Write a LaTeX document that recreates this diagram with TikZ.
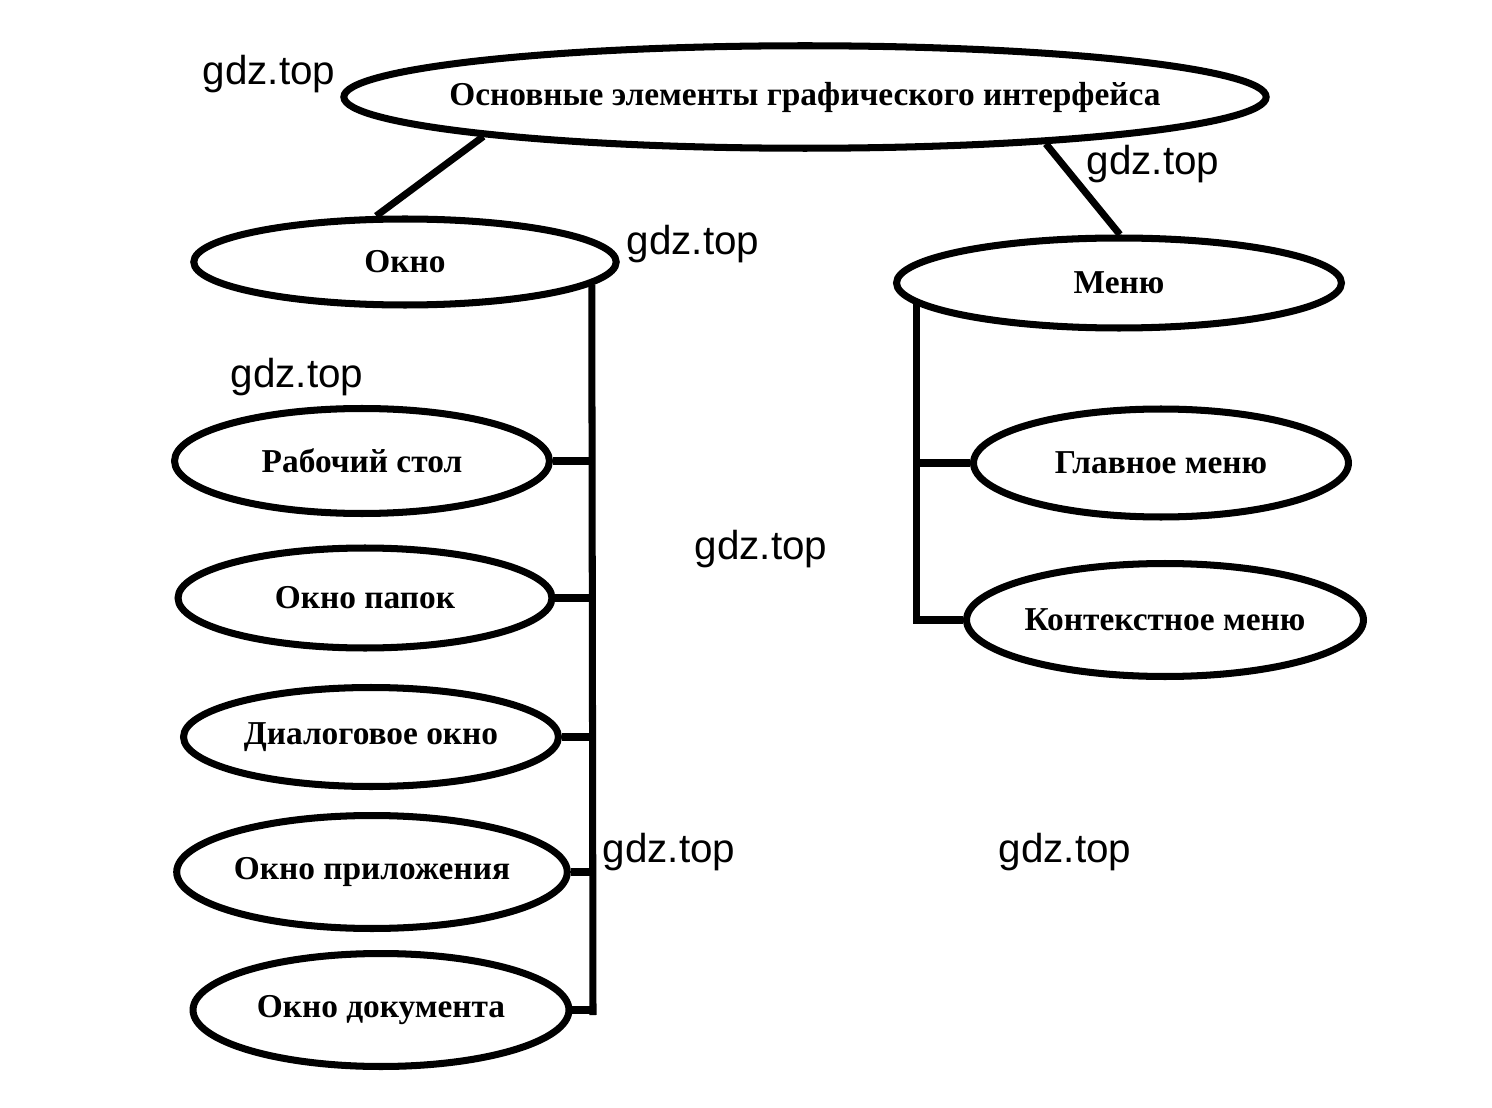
\documentclass[tikz,border=0pt]{standalone}
\usepackage{fontspec}
\setmainfont{Liberation Serif}
\newfontfamily\wmfont{Liberation Sans}
\usetikzlibrary{shapes.geometric}

\tikzset{
  oval/.style={ellipse, draw, line width=4pt, inner sep=0pt,
    font=\fontsize{19}{22}\selectfont\bfseries},
  link/.style={line width=4pt},
  mark gdz/.style={font=\wmfont\fontsize{23}{26}\selectfont}
}

\begin{document}
\begin{tikzpicture}[x=0.02cm, y=-0.02cm]
\useasboundingbox (0,0) rectangle (1492,1108);

\node[oval, inner xsep=-0.6cm, minimum width=18.45cm, minimum height=2.05cm] (top) at (805,97) {Основные элементы графического интерфейса};

\node[oval, minimum width=8.45cm, minimum height=1.72cm] (okno) at (405,262) {Окно};
\node[oval, minimum width=8.9cm, minimum height=1.8cm] (menu) at (1119,283) {Меню};

% ветвь окна
\node[oval, minimum width=7.5cm, minimum height=2.1cm] (rab) at (362,461) {Рабочий стол};
\node[oval, minimum width=7.48cm, minimum height=2.0cm] (pap) at (365,598) {Окно папок};
\node[oval, minimum width=7.5cm, minimum height=1.98cm] (dia) at (371,737) {Диалоговое окно};
\node[oval, minimum width=7.48cm, minimum height=2.26cm] (app) at (372,872) {Окно приложения};
\node[oval, minimum width=7.52cm, minimum height=2.26cm] (doc) at (381,1010) {Окно документа};

% ветвь меню
\node[oval, minimum width=7.5cm, minimum height=2.16cm] (glav) at (1161,463) {Главное меню};
\node[oval, minimum width=7.48cm, minimum height=2.26cm] (kont) at (1165,620) {Контекстное меню};

\draw[link] (top.187) -- (okno.122);
\draw[link] (top.349) -- (menu.89);

\coordinate (lend) at (593,1015);
\draw[link] (okno.-7) -- (lend);
\foreach \n in {rab,pap,dia,app,doc}
  \draw[link] (\n.east) -- (\n.east -| lend);

\draw[link] (menu.186) |- (kont.west);
\draw[link] (glav.west) -- (glav.west -| menu.186);

% надписи
\node[mark gdz] (wm1) at (269,74) {gdz.top};
\node[mark gdz] (wm2) at (1153,164) {gdz.top};
\node[mark gdz] (wm3) at (693,244) {gdz.top};
\node[mark gdz] (wm4) at (297,377) {gdz.top};
\node[mark gdz] (wm5) at (761,549) {gdz.top};
\node[mark gdz] (wm6) at (669,852) {gdz.top};
\node[mark gdz] (wm7) at (1065,852) {gdz.top};

\end{tikzpicture}
\end{document}
